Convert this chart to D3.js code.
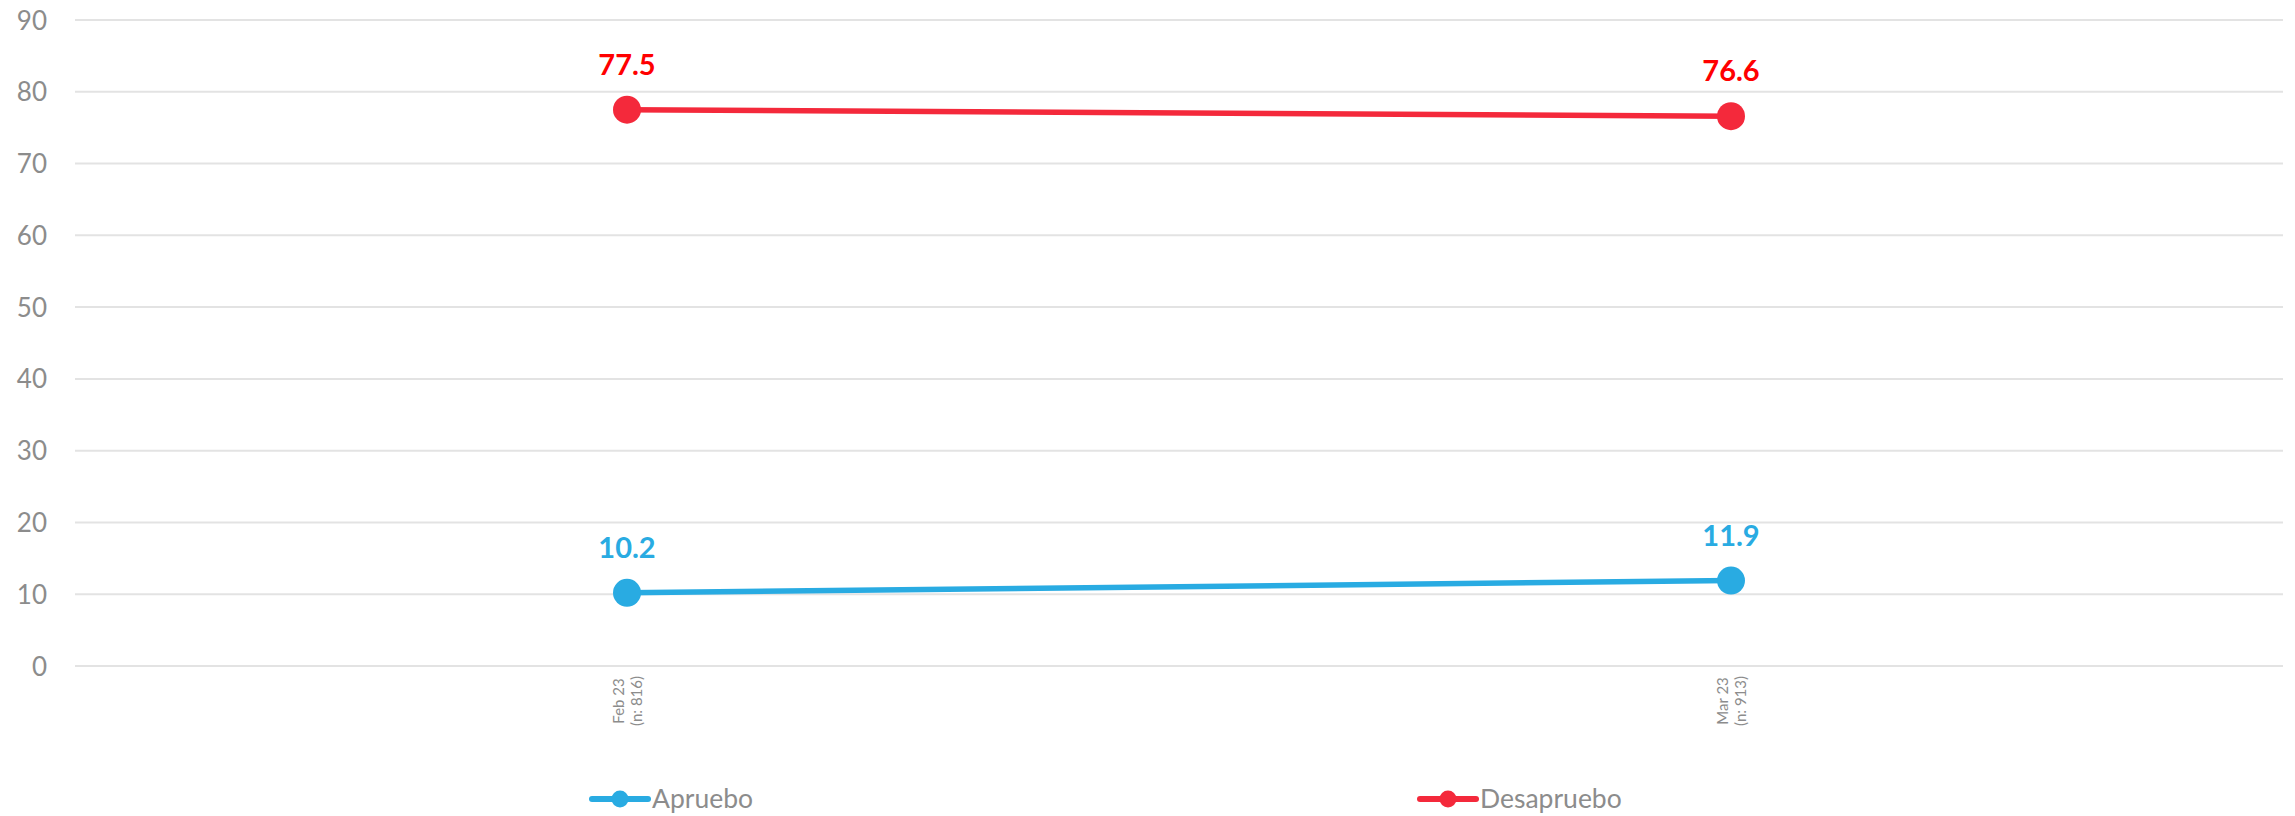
<!DOCTYPE html>
<html><head><meta charset="utf-8">
<script src="https://cdn.jsdelivr.net/npm/d3@7"></script>
<style>body{margin:0;background:#fff;}svg{display:block;font-family:Lato,"Open Sans",sans-serif;}</style>
</head><body>
<svg id="c" width="2295" height="816"></svg>
<script>
const categories = ["Feb 23|(n: 816)", "Mar 23|(n: 913)"];
const apruebo = [10.2, 11.9];
const desapruebo = [77.5, 76.6];
const yTicks = [0,10,20,30,40,50,60,70,80,90];
const seriesNames = ["Apruebo", "Desapruebo"];
const seriesColors = ["#29abe2", "#f4293b"];
const labelColors = ["#29abe2", "#ff0000"];

const svg = d3.select("#c");
const pLeft = 75, pRight = 2283, pTop = 20, pBottom = 666;
const x = d3.scalePoint().domain(categories).range([pLeft, pRight]).padding(0.5);
const y = d3.scaleLinear().domain([0, 90]).range([pBottom, pTop]);

// gridlines
svg.append("g").selectAll("line").data(yTicks).join("line")
  .attr("x1", pLeft).attr("x2", pRight)
  .attr("y1", d => y(d)).attr("y2", d => y(d))
  .attr("stroke", "#e3e3e3").attr("stroke-width", 2);

// y axis labels
const yAxis = d3.axisLeft(y).tickValues(yTicks).tickSize(0).tickPadding(0);
const ya = svg.append("g").attr("transform", "translate(47,0)").call(yAxis);
ya.select(".domain").remove();
ya.selectAll("text").attr("font-size", 26).attr("fill", "#8c8c8c")
  .attr("font-family", "Lato").attr("dy", "0.35em");

// x axis labels (rotated)
const xg = svg.append("g");
categories.forEach(c => {
  const parts = c.split("|");
  const t = xg.append("text")
    .attr("transform", `translate(${x(c)},701) rotate(-90)`)
    .attr("text-anchor", "middle").attr("font-size", 15).attr("fill", "#8c8c8c");
  t.append("tspan").attr("x", 0).attr("dy", "-0.2em").text(parts[0]);
  t.append("tspan").attr("x", 0).attr("dy", "1.2em").text(parts[1]);
});

const allSeries = [apruebo, desapruebo];
const line = d3.line().x((d, i) => x(categories[i])).y(d => y(d));
allSeries.forEach((s, k) => {
  const g = svg.append("g");
  g.append("path").datum(s).attr("d", line).attr("fill", "none")
    .attr("stroke", seriesColors[k]).attr("stroke-width", 5.5);
  g.selectAll("circle").data(s).join("circle")
    .attr("cx", (d, i) => x(categories[i])).attr("cy", d => y(d)).attr("r", 14)
    .attr("fill", seriesColors[k]);
  g.selectAll("text").data(s).join("text")
    .attr("x", (d, i) => x(categories[i])).attr("y", d => y(d) - 35)
    .attr("text-anchor", "middle").attr("font-size", 29).attr("font-weight", "bold")
    .attr("fill", labelColors[k]).text(d => d.toFixed(1));
});

// legend
const legendX = [592, 1420];
seriesNames.forEach((n, k) => {
  const g = svg.append("g").attr("transform", `translate(${legendX[k]},799)`);
  g.append("line").attr("x1", 0).attr("x2", 56).attr("y1", 0).attr("y2", 0)
    .attr("stroke", seriesColors[k]).attr("stroke-width", 6).attr("stroke-linecap", "round");
  g.append("circle").attr("cx", 28).attr("cy", 0).attr("r", 8.5).attr("fill", seriesColors[k]);
  g.append("text").attr("x", 60).attr("y", 0).attr("dy", "0.35em")
    .attr("font-size", 26.5).attr("fill", "#8c8c8c").text(n);
});
</script>
</body></html>
